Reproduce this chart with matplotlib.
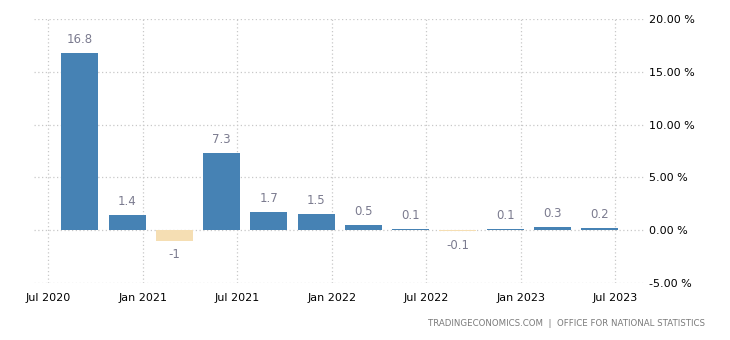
import matplotlib.pyplot as plt

# quarterly GDP growth, months after Jul 2020 for each quarter end
quarters = ["Q3 2020", "Q4 2020", "Q1 2021", "Q2 2021", "Q3 2021", "Q4 2021",
            "Q1 2022", "Q2 2022", "Q3 2022", "Q4 2022", "Q1 2023", "Q2 2023"]
months = [2, 5, 8, 11, 14, 17, 20, 23, 26, 29, 32, 35]
growth = [16.8, 1.4, -1, 7.3, 1.7, 1.5, 0.5, 0.1, -0.1, 0.1, 0.3, 0.2]

tick_pos = [0, 6, 12, 18, 24, 30, 36]
tick_labels = ["Jul 2020", "Jan 2021", "Jul 2021", "Jan 2022",
               "Jul 2022", "Jan 2023", "Jul 2023"]
y_ticks = [-5, 0, 5, 10, 15, 20]


def main():
    fig = plt.figure(figsize=(7.3, 3.4), dpi=100)
    ax = fig.add_axes([0.047, 0.168, 0.837, 0.776])

    colors = ["#4682b4" if v >= 0 else "#f5deb3" for v in growth]
    ax.bar(months, growth, width=2.35, color=colors, zorder=3)

    for m, v in zip(months, growth):
        if v >= 0:
            ax.annotate(f"{v:g}", (m, v), xytext=(0, 5), textcoords="offset points",
                        ha="center", va="bottom", fontsize=8.5, color="#7b7b8f")
        else:
            ax.annotate(f"{v:g}", (m, v), xytext=(0, -5.5), textcoords="offset points",
                        ha="center", va="top", fontsize=8.5, color="#7b7b8f")

    ax.set_xlim(-0.9, 37.9)
    ax.set_ylim(-5, 20)
    ax.set_xticks(tick_pos)
    ax.set_xticklabels(tick_labels)
    ax.set_yticks(y_ticks)
    ax.set_yticklabels([f"{t:.2f} %" for t in y_ticks])
    ax.yaxis.tick_right()
    ax.tick_params(length=0, labelsize=8, colors="#000000")
    ax.tick_params(axis="x", pad=7)
    ax.tick_params(axis="y", pad=3)

    ax.grid(True, linestyle=(0, (1, 2)), color="#c8c8c8", linewidth=0.9, zorder=0)
    for s in ax.spines.values():
        s.set_visible(False)

    fig.text(0.966, 0.05, "TRADINGECONOMICS.COM  |  OFFICE FOR NATIONAL STATISTICS",
             ha="right", va="center", fontsize=6.2, color="#7a7a7a")

    fig.savefig("out.png", dpi=100)


if __name__ == "__main__":
    main()
